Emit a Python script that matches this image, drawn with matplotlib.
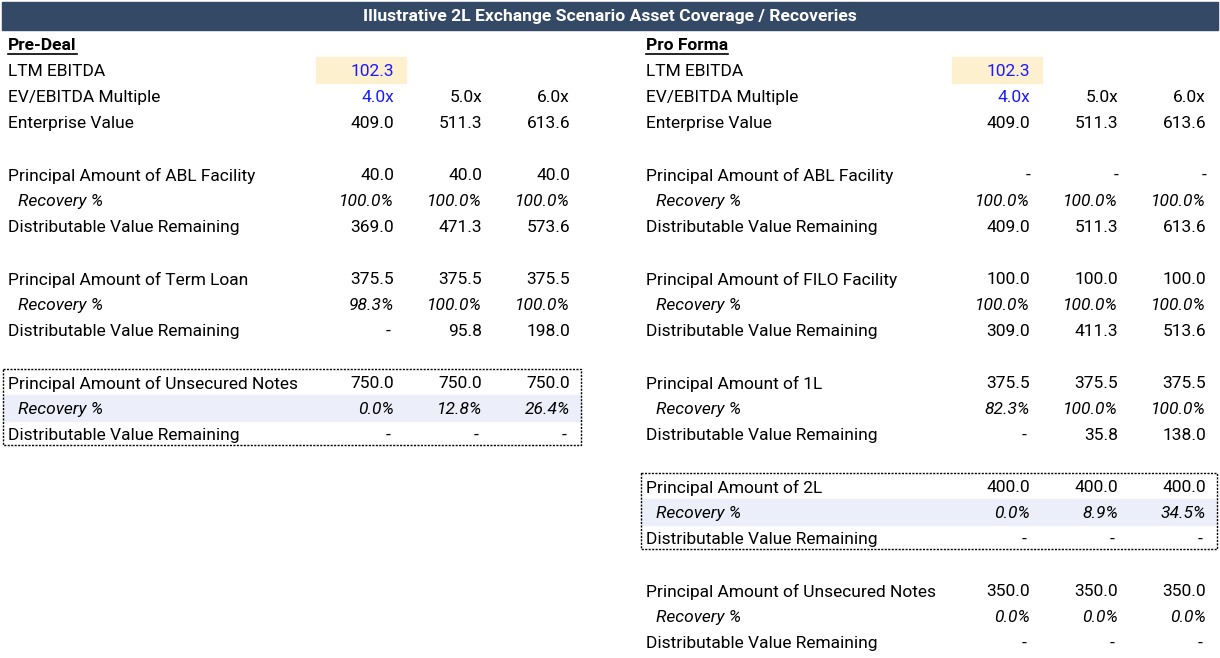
import matplotlib.pyplot as plt
from matplotlib.patches import Rectangle

plt.rcParams['font.family'] = ['Roboto', 'DejaVu Sans']

title = "Illustrative 2L Exchange Scenario Asset Coverage / Recoveries"

ltm_ebitda = "102.3"
multiples = ["4.0x", "5.0x", "6.0x"]
ev = ["409.0", "511.3", "613.6"]

# pre-deal tranches: (name, principal, recovery, remaining)
pre_names = ["ABL Facility", "Term Loan", "Unsecured Notes"]
pre_principal = [["40.0", "40.0", "40.0"],
                 ["375.5", "375.5", "375.5"],
                 ["750.0", "750.0", "750.0"]]
pre_recovery = [["100.0%", "100.0%", "100.0%"],
                ["98.3%", "100.0%", "100.0%"],
                ["0.0%", "12.8%", "26.4%"]]
pre_remaining = [["369.0", "471.3", "573.6"],
                 ["-", "95.8", "198.0"],
                 ["-", "-", "-"]]

pro_names = ["ABL Facility", "FILO Facility", "1L", "2L", "Unsecured Notes"]
pro_principal = [["-", "-", "-"],
                 ["100.0", "100.0", "100.0"],
                 ["375.5", "375.5", "375.5"],
                 ["400.0", "400.0", "400.0"],
                 ["350.0", "350.0", "350.0"]]
pro_recovery = [["100.0%", "100.0%", "100.0%"],
                ["100.0%", "100.0%", "100.0%"],
                ["82.3%", "100.0%", "100.0%"],
                ["0.0%", "8.9%", "34.5%"],
                ["0.0%", "0.0%", "0.0%"]]
pro_remaining = [["409.0", "511.3", "613.6"],
                 ["309.0", "411.3", "513.6"],
                 ["-", "35.8", "138.0"],
                 ["-", "-", "-"],
                 ["-", "-", "-"]]

W, H = 1220, 658
fig = plt.figure(figsize=(W / 100, H / 100), dpi=100)
ax = fig.add_axes([0, 0, 1, 1])
ax.set_xlim(0, W)
ax.set_ylim(H, 0)
ax.axis("off")

FS = 12.5
BLUE = "#1a1aff"
ROW = 26
TOP = 44
DY = 1.5  # text baseline nudge

ax.add_patch(Rectangle((2, 2), W - 4, 28, color="#344966", zorder=0))
ax.text(W / 2, 16.5, title, color="white", fontsize=12.6, fontweight="bold",
        ha="center", va="center")


def panel(x0, cols, heading, names, principal, recovery, remaining, boxed, box_right):
    # heading with underline
    t = ax.text(x0, TOP + DY, heading, fontsize=FS, fontweight="bold", ha="left", va="center")
    fig.canvas.draw()
    bb = t.get_window_extent()
    inv = ax.transData.inverted()
    (xa, _), (xb, _) = inv.transform([(bb.x0, 0), (bb.x1, 0)])
    ax.plot([xa, xb], [TOP + 10, TOP + 10], color="black", lw=1.2)

    y = TOP + ROW
    ax.add_patch(Rectangle((cols[0] - 78, y - 13), 90, 26, color="#fdf0cf", zorder=0))
    ax.text(x0, y + DY, "LTM EBITDA", fontsize=FS, va="center")
    ax.text(cols[0], y + DY, ltm_ebitda, fontsize=FS, va="center", ha="right", color=BLUE)
    y += ROW
    ax.text(x0, y + DY, "EV/EBITDA Multiple", fontsize=FS, va="center")
    for i, (c, v) in enumerate(zip(cols, multiples)):
        ax.text(c, y + DY, v, fontsize=FS, va="center", ha="right",
                color=BLUE if i == 0 else "black")
    y += ROW
    ax.text(x0, y + DY, "Enterprise Value", fontsize=FS, va="center")
    for c, v in zip(cols, ev):
        ax.text(c, y + DY, v, fontsize=FS, va="center", ha="right")

    for k, name in enumerate(names):
        y += 2 * ROW
        if k == boxed:
            ax.add_patch(Rectangle((x0 - 5, y + ROW - 13), box_right - x0 + 5, 26,
                                   color="#eceefa", zorder=0))
            ax.add_patch(Rectangle((x0 - 5, y - 13), box_right - x0 + 5, 3 * ROW - 2,
                                   fill=False, ec="black", ls=(0, (1.5, 1)), lw=1, zorder=3))
        ax.text(x0, y + DY, "Principal Amount of " + name, fontsize=FS, va="center")
        for c, v in zip(cols, principal[k]):
            ax.text(c, y + DY, v, fontsize=FS, va="center", ha="right")
        ax.text(x0 + 10, y + ROW + DY, "Recovery %", fontsize=FS, va="center", style="italic")
        for c, v in zip(cols, recovery[k]):
            ax.text(c, y + ROW + DY, v, fontsize=FS, va="center", ha="right", style="italic")
        ax.text(x0, y + 2 * ROW + DY, "Distributable Value Remaining", fontsize=FS, va="center")
        for c, v in zip(cols, remaining[k]):
            ax.text(c - (3 if v == "-" else 0), y + 2 * ROW + DY, v, fontsize=FS,
                    va="center", ha="right")
        y += 2 * ROW


panel(8, [394, 482, 570], "Pre-Deal", pre_names, pre_principal, pre_recovery,
      pre_remaining, 2, 581)
panel(646, [1030, 1118, 1206], "Pro Forma", pro_names, pro_principal, pro_recovery,
      pro_remaining, 3, 1217)

fig.savefig("out.png", dpi=100)
